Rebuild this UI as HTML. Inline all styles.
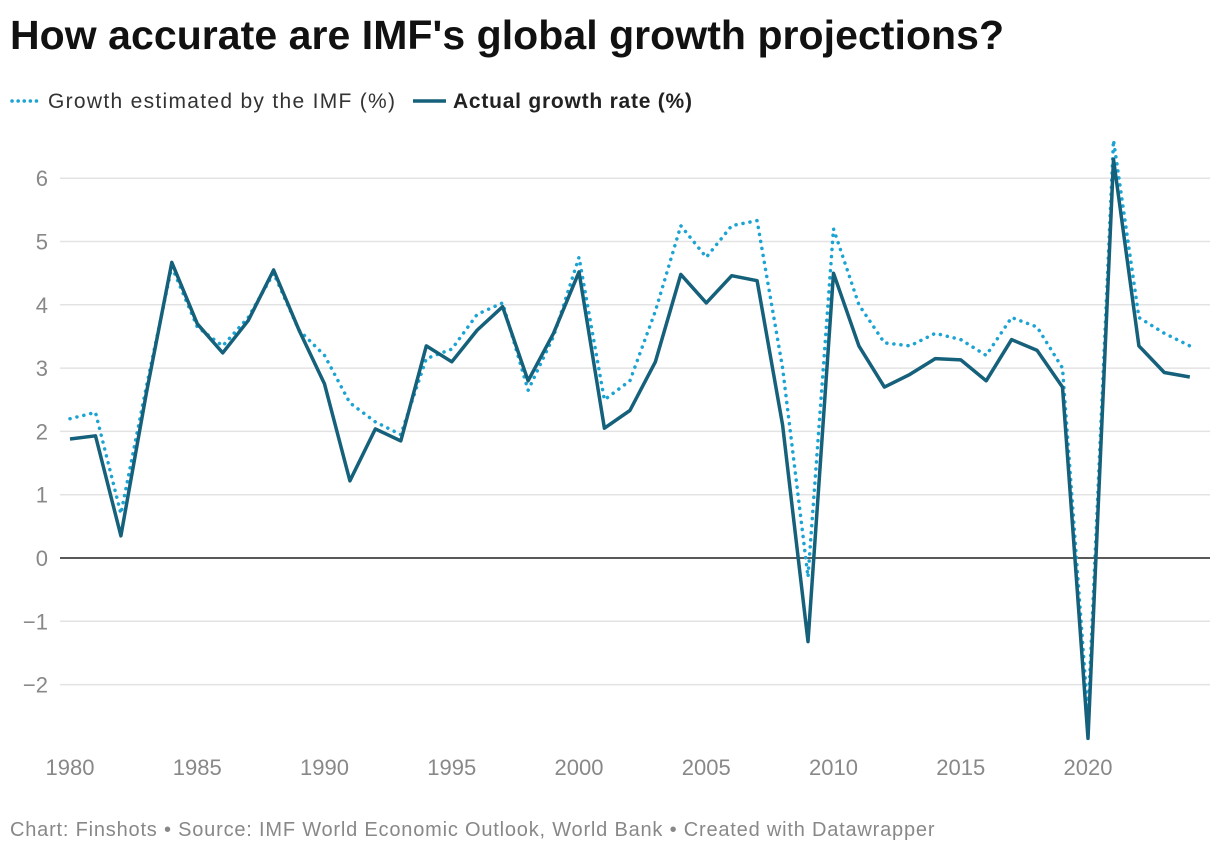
<!DOCTYPE html>
<html><head><meta charset="utf-8"><style>
body{margin:0;background:#fff;font-family:"Liberation Sans",sans-serif;}
#wrap{position:relative;width:1220px;height:856px;overflow:hidden}
h1{position:absolute;left:10px;top:12px;margin:0;font-size:41px;font-weight:bold;color:#111;letter-spacing:0.05px}
.foot{position:absolute;left:10px;top:819px;font-size:20px;color:#888;letter-spacing:0.8px}
</style></head><body>
<div id="wrap">
<h1>How accurate are IMF's global growth projections?</h1>
<svg id="c" width="1220" height="856" style="position:absolute;left:0;top:0"></svg>
<div class="foot">Chart: Finshots • Source: IMF World Economic Outlook, World Bank • Created with Datawrapper</div>
</div>
<script>
const years=[1980,1981,1982,1983,1984,1985,1986,1987,1988,1989,1990,1991,1992,1993,1994,1995,1996,1997,1998,1999,2000,2001,2002,2003,2004,2005,2006,2007,2008,2009,2010,2011,2012,2013,2014,2015,2016,2017,2018,2019,2020,2021,2022,2023,2024];
const actual=[1.88,1.93,0.35,2.6,4.67,3.7,3.24,3.75,4.55,3.6,2.75,1.22,2.04,1.85,3.35,3.1,3.6,3.97,2.8,3.55,4.52,2.05,2.33,3.1,4.48,4.03,4.46,4.38,2.1,-1.32,4.5,3.35,2.7,2.9,3.15,3.13,2.8,3.45,3.28,2.7,-2.85,6.3,3.35,2.93,2.86];
const estimated=[2.2,2.3,0.7,2.7,4.6,3.65,3.35,3.8,4.5,3.6,3.2,2.45,2.15,1.95,3.15,3.3,3.85,4.03,2.65,3.5,4.75,2.5,2.8,3.9,5.25,4.75,5.25,5.33,3.0,-0.3,5.2,4.0,3.4,3.35,3.55,3.45,3.2,3.8,3.65,3.0,-2.5,6.6,3.8,3.55,3.35];
const yTicks=[-2,-1,0,1,2,3,4,5,6];
const xTicks=[1980,1985,1990,1995,2000,2005,2010,2015,2020];
const NS='http://www.w3.org/2000/svg';
const svg=document.getElementById('c');
const X=y=>70+(y-1980)*25.45;
const Y=v=>558-v*63.3;
function mk(t,a){const e=document.createElementNS(NS,t);for(const k in a)e.setAttribute(k,a[k]);svg.appendChild(e);return e;}
yTicks.forEach(v=>{
  const l=mk('line',{x1:60,x2:1210,y1:Y(v),y2:Y(v),stroke:v===0?'#222':'#e3e3e3','stroke-width':1.5});
  
  
  const t=mk('text',{x:48,y:Y(v)+8,'text-anchor':'end','font-size':22,fill:'#888','font-family':'Liberation Sans'});
  t.textContent=v<0?'\u2212'+Math.abs(v):v;
  
  
});
xTicks.forEach(yr=>{
  const t=mk('text',{x:X(yr),y:775,'text-anchor':'middle','font-size':22,fill:'#888','font-family':'Liberation Sans'});
  t.textContent=yr;
  
  
});
const pts=a=>a.map((v,i)=>X(years[i]).toFixed(1)+','+Y(v).toFixed(1)).join(' ');
const e=mk('polyline',{points:pts(estimated),fill:'none',stroke:'#1ba3d3','stroke-width':3.5,'stroke-dasharray':'0.1 7','stroke-linecap':'round','stroke-linejoin':'round'});


const a=mk('polyline',{points:pts(actual),fill:'none',stroke:'#15607a','stroke-width':3.5,'stroke-linejoin':'round'});


const l1=mk('line',{x1:12,x2:42,y1:101,y2:101,stroke:'#1ba3d3','stroke-width':3.5,'stroke-dasharray':'0.1 6','stroke-linecap':'round'});


const t1=mk('text',{x:48,y:108,'font-size':21,fill:'#333','font-family':'Liberation Sans',textLength:347,lengthAdjust:'spacing'});
t1.textContent='Growth estimated by the IMF (%)';


const l2=mk('line',{x1:413,x2:446,y1:101,y2:101,stroke:'#15607a','stroke-width':3.5});


const t2=mk('text',{x:453,y:108,'font-size':21,'font-weight':'bold',fill:'#222','font-family':'Liberation Sans',textLength:239,lengthAdjust:'spacing'});
t2.textContent='Actual growth rate (%)';


</script>
</body></html>
